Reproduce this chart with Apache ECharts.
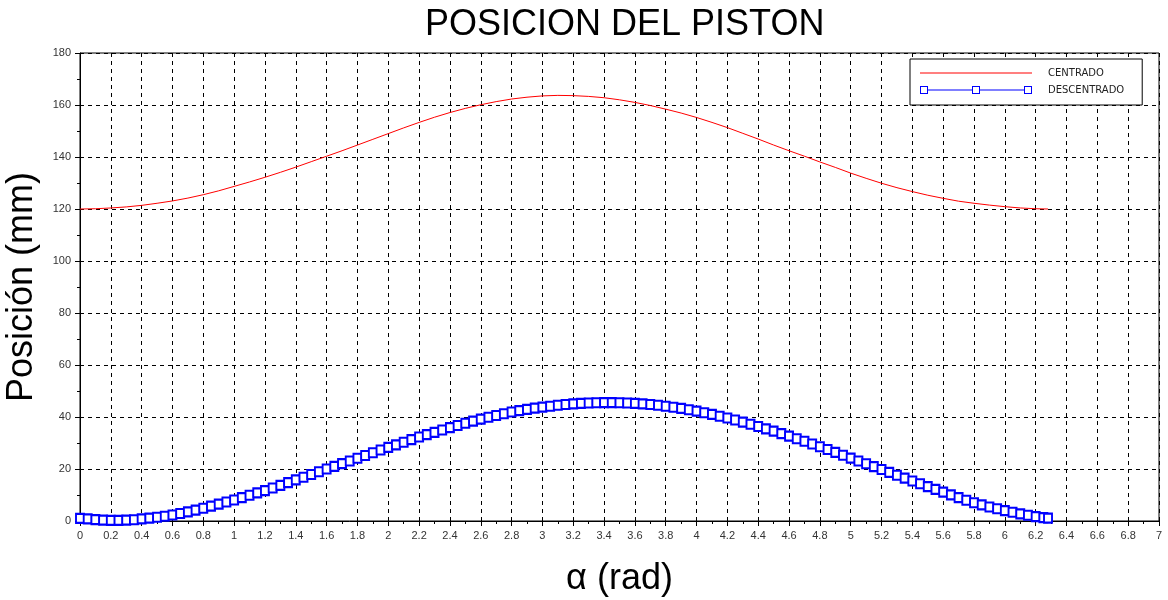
<!DOCTYPE html>
<html>
<head>
<meta charset="utf-8">
<script src="https://cdn.jsdelivr.net/npm/echarts@6/dist/echarts.min.js"></script>
<style>
html,body{margin:0;padding:0;background:#fff;}
#chart{width:1168px;height:600px;}
</style>
</head>
<body>
<div id="chart"></div>
<script>
// ---- DATA ----
var titleText = 'POSICION DEL PISTON';
var xName = 'α (rad)';
var yName = 'Posición (mm)';
var seriesNames = ['CENTRADO', 'DESCENTRADO'];

var centradoX = [0,0.1,0.2,0.3,0.4,0.5,0.6,0.7,0.8,0.9,1,1.1,1.2,1.3,1.4,1.5,1.6,1.7,1.8,1.9,2,2.1,2.2,2.3,2.4,2.5,2.6,2.7,2.8,2.9,3,3.1,3.2,3.3,3.4,3.5,3.6,3.7,3.8,3.9,4,4.1,4.2,4.3,4.4,4.5,4.6,4.7,4.8,4.9,5,5.1,5.2,5.3,5.4,5.5,5.6,5.7,5.8,5.9,6,6.1,6.2,6.28];
var centradoY = [120.0,120.1,120.4,120.8,121.4,122.2,123.1,124.2,125.5,127.0,128.7,130.4,132.2,134.1,136.1,138.2,140.3,142.4,144.6,146.8,149.0,151.2,153.3,155.3,157.1,158.7,160.1,161.3,162.3,163.0,163.5,163.7,163.6,163.3,162.8,162.0,161.0,159.8,158.4,156.9,155.2,153.3,151.3,149.1,146.9,144.6,142.4,140.3,138.1,136.0,133.8,131.8,129.9,128.2,126.7,125.3,124.1,123.0,122.2,121.5,120.9,120.4,120.1,120.0];

var descentradoX = [0,0.05,0.1,0.15,0.2,0.25,0.3,0.35,0.4,0.45,0.5,0.55,0.6,0.65,0.7,0.75,0.8,0.85,0.9,0.95,
1,1.05,1.1,1.15,1.2,1.25,1.3,1.35,1.4,1.45,1.5,1.55,1.6,1.65,1.7,1.75,1.8,1.85,1.9,1.95,
2,2.05,2.1,2.15,2.2,2.25,2.3,2.35,2.4,2.45,2.5,2.55,2.6,2.65,2.7,2.75,2.8,2.85,2.9,2.95,
3,3.05,3.1,3.15,3.2,3.25,3.3,3.35,3.4,3.45,3.5,3.55,3.6,3.65,3.7,3.75,3.8,3.85,3.9,3.95,
4,4.05,4.1,4.15,4.2,4.25,4.3,4.35,4.4,4.45,4.5,4.55,4.6,4.65,4.7,4.75,4.8,4.85,4.9,4.95,
5,5.05,5.1,5.15,5.2,5.25,5.3,5.35,5.4,5.45,5.5,5.55,5.6,5.65,5.7,5.75,5.8,5.85,5.9,5.95,
6,6.05,6.1,6.15,6.2,6.25,6.28];
var descentradoY = [1.0,0.8,0.55,0.35,0.25,0.25,0.35,0.5,0.8,1.1,1.45,1.85,2.3,2.9,3.5,4.2,4.9,5.7,6.5,7.3,
8.1,9.0,9.9,10.8,11.7,12.7,13.7,14.75,15.8,16.85,17.9,18.95,20.0,21.0,22.05,23.1,24.15,25.2,26.25,27.3,
28.3,29.3,30.3,31.3,32.3,33.2,34.1,35.0,35.9,36.75,37.6,38.4,39.2,39.9,40.6,41.25,41.9,42.45,42.95,43.4,
43.8,44.15,44.5,44.8,45.05,45.25,45.4,45.5,45.55,45.55,45.5,45.4,45.25,45.05,44.8,44.5,44.15,43.75,43.3,42.8,
42.25,41.65,41.0,40.3,39.6,38.85,38.05,37.2,36.35,35.45,34.55,33.6,32.65,31.65,30.65,29.6,28.55,27.5,26.4,25.3,
24.2,23.1,22.0,20.9,19.8,18.7,17.6,16.5,15.4,14.35,13.2,12.15,11.1,10.05,9.0,8.0,7.0,6.2,5.4,4.7,
4.0,3.35,2.75,2.2,1.7,1.3,1.1];

// ---- CHART ----
function pairs(xs, ys) {
  var out = [];
  for (var i = 0; i < xs.length; i++) out.push([xs[i], ys[i]]);
  return out;
}

var chart = echarts.init(document.getElementById('chart'), null, {renderer: 'canvas'});
var lblFont = 'Liberation Sans, Arial, sans-serif';

var redIcon = 'path://M0,4.6H112V5.4H0Z';
var blueIcon = 'path://M0,0H8V8H0Z M1,1V7H7V1Z M8,3.6H52V4.4H8Z M52,0H60V8H52Z M53,1V7H59V1Z M60,3.6H104V4.4H60Z M104,0H112V8H104Z M105,1V7H111V1Z';

chart.setOption({
  animation: false,
  backgroundColor: '#fff',
  title: {
    text: titleText,
    left: 420,
    top: 2,
    textStyle: {fontFamily: lblFont, fontSize: 36, fontWeight: 'normal', color: '#000'}
  },
  legend: {
    orient: 'vertical',
    left: 910,
    top: 59,
    padding: [9, 18, 10, 10],
    itemGap: 7,
    itemWidth: 112,
    itemHeight: 10,
    symbolKeepAspect: true,
    backgroundColor: '#fff',
    borderColor: '#000',
    borderWidth: 1,
    textStyle: {fontFamily: 'DejaVu Sans, sans-serif', fontSize: 10, color: '#222', padding: [0, 0, 0, 11]},
    data: [
      {name: seriesNames[0], icon: redIcon, itemStyle: {color: '#ff0000', borderWidth: 0}, lineStyle: {width: 0}},
      {name: seriesNames[1], icon: blueIcon, itemStyle: {color: '#0000ff', borderWidth: 0}, lineStyle: {width: 0}}
    ]
  },
  grid: {
    left: 80, right: 9, top: 53, bottom: 79,
    outerBoundsMode: 'none',
    containLabel: false,
    show: true, borderColor: '#000', borderWidth: 1, backgroundColor: 'transparent'
  },
  xAxis: {
    type: 'value',
    min: 0, max: 7, interval: 0.2,
    name: xName,
    nameLocation: 'middle',
    nameGap: 40,
    nameTextStyle: {fontFamily: lblFont, fontSize: 36, color: '#000'},
    axisLine: {lineStyle: {color: '#000', width: 1}},
    axisTick: {show: true, length: 5, lineStyle: {color: '#000'}},
    minorTick: {show: true, splitNumber: 2, length: 3, lineStyle: {color: '#000'}},
    axisLabel: {fontFamily: lblFont, fontSize: 11, color: '#333', margin: 9},
    splitLine: {show: true, lineStyle: {color: '#000', type: [4, 4], width: 1}}
  },
  yAxis: {
    type: 'value',
    min: 0, max: 180, interval: 20,
    name: yName,
    nameLocation: 'middle',
    nameRotate: 90,
    nameGap: 40,
    nameTextStyle: {fontFamily: lblFont, fontSize: 36, color: '#000'},
    axisLine: {show: true, lineStyle: {color: '#000', width: 1}},
    axisTick: {show: true, length: 5, lineStyle: {color: '#000'}},
    minorTick: {show: true, splitNumber: 2, length: 3, lineStyle: {color: '#000'}},
    axisLabel: {fontFamily: lblFont, fontSize: 11, color: '#333', margin: 9},
    splitLine: {show: true, lineStyle: {color: '#000', type: [4, 4], width: 1}}
  },
  series: [
    {
      name: seriesNames[0],
      type: 'line',
      data: pairs(centradoX, centradoY),
      showSymbol: false,
      symbol: 'none',
      lineStyle: {color: '#ff0000', width: 1},
      itemStyle: {color: '#ff0000'}
    },
    {
      name: seriesNames[1],
      type: 'line',
      data: pairs(descentradoX, descentradoY),
      symbol: 'emptyRect',
      symbolSize: [8, 9],
      showAllSymbol: true,
      lineStyle: {color: '#0000ff', width: 1},
      itemStyle: {color: '#0000ff', borderColor: '#0000ff', borderWidth: 1}
    }
  ]
});
</script>
</body>
</html>
